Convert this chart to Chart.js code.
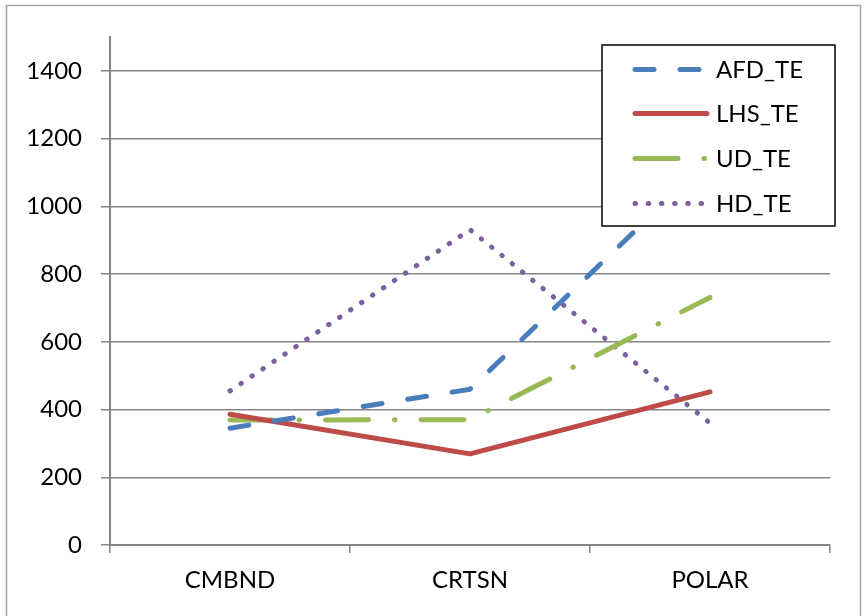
<!DOCTYPE html>
<html>
<head>
<meta charset="utf-8">
<script src="https://cdn.jsdelivr.net/npm/chart.js@4"></script>
<style>
html,body{margin:0;padding:0;background:#fff;}
#wrap{width:866px;height:616px;position:relative;}
</style>
</head>
<body>
<div id="wrap"><canvas id="c" width="866" height="616"></canvas></div>
<script>
const categories = ['CMBND', 'CRTSN', 'POLAR'];
const seriesNames = ['AFD_TE', 'LHS_TE', 'UD_TE', 'HD_TE'];
const afdValues = [345, 460, 1140];
const lhsValues = [386, 269, 452];
const udValues = [369, 370, 731];
const hdValues = [455, 931, 360];
const yTicks = [0, 200, 400, 600, 800, 1000, 1200, 1400];

const FONT = 'Lato, "Open Sans", sans-serif';

const frame = {
  id: 'frame',
  beforeDraw(chart) {
    const ctx = chart.ctx;
    ctx.save();
    ctx.fillStyle = '#fff';
    ctx.fillRect(0, 0, chart.width, chart.height);
    ctx.strokeStyle = '#a6a6a6';
    ctx.lineWidth = 1.5;
    ctx.strokeRect(6.5, 5.5, 854, 620);
    ctx.restore();
  }
};

const boxLegend = {
  id: 'boxLegend',
  afterDatasetsDraw(chart) {
    const ctx = chart.ctx;
    ctx.save();
    ctx.fillStyle = '#fff';
    ctx.fillRect(602, 45, 233, 181);
    ctx.strokeStyle = '#000';
    ctx.lineWidth = 1.5;
    ctx.strokeRect(602, 45, 233, 181);
    const rows = [69.5, 113.5, 158.5, 203.5];
    chart.data.datasets.forEach((ds, i) => {
      const y = rows[i];
      ctx.beginPath();
      ctx.strokeStyle = ds.borderColor;
      ctx.lineWidth = ds.borderWidth;
      ctx.lineCap = ds.borderCapStyle || 'butt';
      ctx.setLineDash(ds.borderDash || []);
      ctx.lineDashOffset = 0;
      ctx.moveTo(635, y);
      ctx.lineTo(707, y);
      ctx.stroke();
      ctx.setLineDash([]);
      ctx.fillStyle = '#000';
      ctx.font = '24px ' + FONT;
      ctx.textAlign = 'left';
      ctx.textBaseline = 'middle';
      ctx.fillText(ds.label, 716, y + 1);
    });
    ctx.restore();
  }
};

new Chart(document.getElementById('c'), {
  type: 'line',
  data: {
    labels: categories,
    datasets: [
      { label: seriesNames[0], data: afdValues, borderColor: '#4A7EBB', borderWidth: 5,
        borderDash: [19, 26], borderCapStyle: 'round' },
      { label: seriesNames[1], data: lhsValues, borderColor: '#BE4B48', borderWidth: 5,
        borderCapStyle: 'round' },
      { label: seriesNames[2], data: udValues, borderColor: '#98B954', borderWidth: 5,
        borderDash: [43, 26, 0.5, 26], borderCapStyle: 'round' },
      { label: seriesNames[3], data: hdValues, borderColor: '#7D60A0', borderWidth: 5,
        borderDash: [0.5, 12.7], borderCapStyle: 'round' }
    ]
  },
  options: {
    responsive: false,
    animation: false,
    events: [],
    layout: { padding: { top: 37, right: 36, bottom: 0, left: 0 } },
    elements: {
      point: { radius: 0 },
      line: { tension: 0, fill: false, borderJoinStyle: 'round' }
    },
    plugins: {
      legend: { display: false },
      tooltip: { enabled: false }
    },
    scales: {
      x: {
        offset: true,
        afterFit(s) { s.height = 71; },
        grid: { offset: true, drawOnChartArea: false, drawTicks: true, tickLength: 8,
                color: '#868686', lineWidth: 1.5 },
        border: { display: true, color: '#868686', width: 2 },
        ticks: { color: '#000', font: { family: FONT, size: 24 }, padding: 13 }
      },
      y: {
        min: 0,
        max: 1500,
        afterFit(s) { s.width = 110; },
        afterBuildTicks(s) { s.ticks = yTicks.map(v => ({ value: v })); },
        grid: { color: '#868686', lineWidth: 1.5, drawTicks: true, tickLength: 9 },
        border: { display: true, color: '#868686', width: 2 },
        ticks: { color: '#000', font: { family: FONT, size: 24 }, padding: 19,
                 callback: (v) => String(v) }
      }
    }
  },
  plugins: [frame, boxLegend]
});
</script>
</body>
</html>
